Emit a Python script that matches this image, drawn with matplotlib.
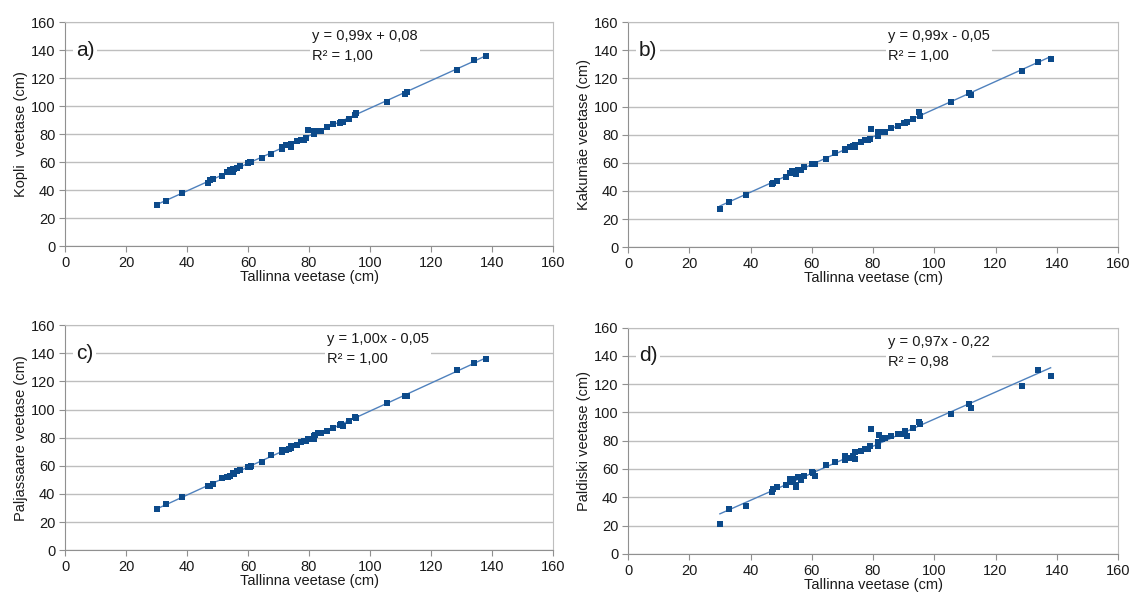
import matplotlib
matplotlib.use("Agg")
import matplotlib.pyplot as plt
import numpy as np

plt.rcParams.update({
    "font.family": ["Liberation Sans Narrow", "Liberation Sans", "DejaVu Sans"],
    "font.size": 10.5,
    "xtick.labelsize": 10.5,
    "ytick.labelsize": 10.5,
    "axes.labelsize": 10.5,
})

# Tallinn water level (shared x)
tallinn = [30, 33, 38.5, 47, 47.5, 48.5, 51.5, 53, 53.5, 54, 55, 55, 55.5, 56.5, 57.5,
           60, 60.5, 61, 64.5, 67.5, 71, 71, 72.5, 73.5, 74, 74, 76, 77.5, 78.5, 79, 79.5,
           81.5, 81.5, 82, 83, 84, 86, 88, 90, 90.5, 91, 93, 95, 95.5, 105.5, 111.5, 112,
           128.5, 134, 138]

kopli = [29, 32, 38, 45, 47, 48, 50, 53, 53, 54, 53, 55, 55, 56, 57,
         59, 60, 60, 63, 66, 69, 71, 72, 72, 71, 73, 75, 76, 76, 77, 83,
         80, 82, 82, 82, 82, 85, 87, 88, 89, 89, 91, 94, 95, 103, 109, 110,
         126, 133, 136]

kakumae = [27, 32, 37, 45, 46, 47, 50, 53, 54, 54, 52, 54, 55, 55, 57,
           59, 59, 59, 63, 67, 69, 70, 71, 72, 71, 73, 75, 76, 76, 77, 84,
           79, 82, 82, 82, 82, 85, 86, 88, 88, 89, 91, 96, 93, 103, 110, 108,
           125, 132, 134]

paljassaare = [29, 33, 38, 46, 46, 47, 51, 52, 52, 53, 54, 55, 54, 56, 57,
               59, 59, 60, 63, 68, 70, 71, 71, 72, 73, 74, 75, 77, 78, 78, 79,
               79, 81, 82, 83, 83, 85, 87, 89, 90, 88, 92, 95, 94, 105, 110, 110,
               128, 133, 136]

paldiski = [21, 32, 34, 44, 46, 47, 49, 53, 51, 53, 47, 49, 54, 52, 55,
            58, 57, 55, 63, 65, 66, 69, 68, 69, 72, 67, 73, 74, 74, 76, 88,
            76, 79, 84, 81, 82, 83, 85, 85, 87, 83, 89, 93, 92, 99, 106, 103,
            119, 130, 126]

panels = [
    ("a)", "Kopli  veetase (cm)", kopli, "y = 0,99x + 0,08\nR² = 1,00"),
    ("b)", "Kakumäe veetase (cm)", kakumae, "y = 0,99x - 0,05\nR² = 1,00"),
    ("c)", "Paljassaare veetase (cm)", paljassaare, "y = 1,00x - 0,05\nR² = 1,00"),
    ("d)", "Paldiski veetase (cm)", paldiski, "y = 0,97x - 0,22\nR² = 0,98"),
]

# axes rectangles in figure fractions
rects = [
    [0.0575, 0.590, 0.4315, 0.373],
    [0.5553, 0.588, 0.4332, 0.375],
    [0.0575, 0.083, 0.4315, 0.375],
    [0.5553, 0.077, 0.4332, 0.377],
]
eq_x = [81, 85, 86, 85]

MARK = "#0C4A8A"
LINE = "#4F81BD"

fig = plt.figure(figsize=(11.31, 6.0), dpi=100)
x = np.array(tallinn)
for (letter, ylabel, yvals, eq), rect, ex in zip(panels, rects, eq_x):
    ax = fig.add_axes(rect)
    y = np.array(yvals)
    k, b = np.polyfit(x, y, 1)
    xs = np.array([x.min(), x.max()])
    ax.plot(xs, k * xs + b, color=LINE, lw=1.0, zorder=2)
    ax.scatter(x, y, marker="s", s=19, color=MARK, zorder=3, linewidths=0)
    ax.set_xlim(0, 160)
    ax.set_ylim(0, 160)
    ax.set_xticks(np.arange(0, 161, 20))
    ax.set_yticks(np.arange(0, 161, 20))
    ax.grid(axis="y", color="#BEBEBE", lw=1.0, zorder=0)
    ax.set_axisbelow(True)
    for s in ax.spines.values():
        s.set_color("#BEBEBE")
    ax.spines["left"].set_color("#909090")
    ax.spines["bottom"].set_color("#909090")
    ax.tick_params(colors="#909090", labelcolor="#1a1a1a", length=4, pad=3)
    ax.set_xlabel("Tallinna veetase (cm)", labelpad=0, color="#1a1a1a")
    ax.set_ylabel(ylabel, labelpad=2, color="#1a1a1a")
    ax.text(3.5, 140, letter, fontsize=15, va="center", ha="left", color="#1a1a1a",
            bbox=dict(facecolor="white", edgecolor="none", pad=2), zorder=4)
    ax.text(ex, 143, eq, fontsize=10.5, va="center", ha="left", color="#1a1a1a",
            linespacing=1.55,
            bbox=dict(facecolor="white", edgecolor="none", pad=1.5), zorder=4)

fig.savefig("out.png", dpi=100)
